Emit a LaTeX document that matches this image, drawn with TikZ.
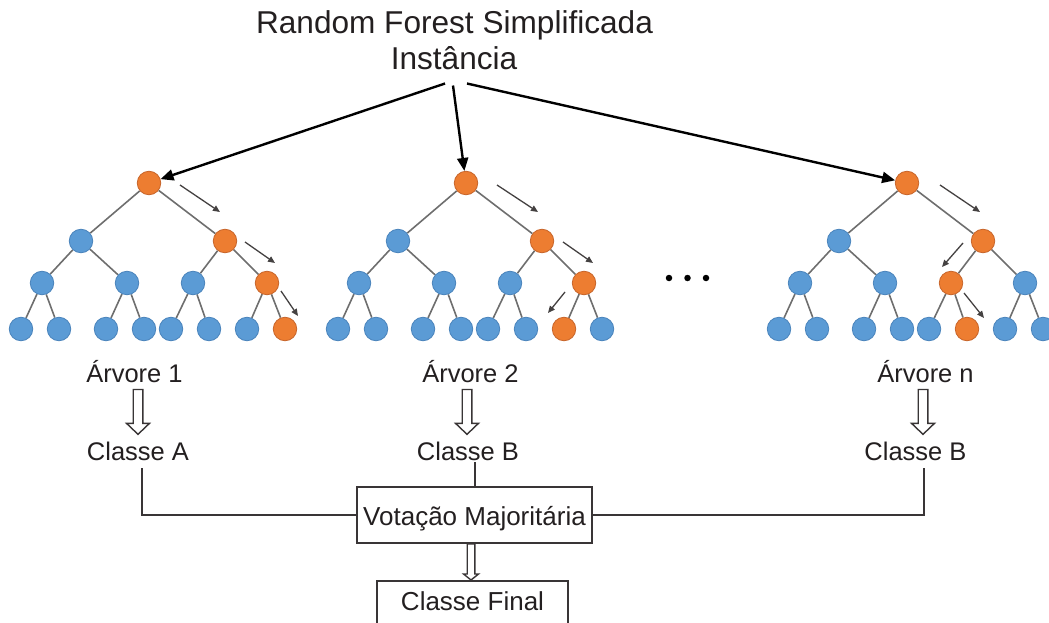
\documentclass[tikz,border=0pt]{standalone}
\usepackage{fontspec}
\setmainfont{Liberation Sans}
\usetikzlibrary{arrows.meta,backgrounds,calc}

\definecolor{nodeblue}{HTML}{5B9BD5}
\definecolor{nodeblueline}{HTML}{4A84BC}
\definecolor{nodeorange}{HTML}{ED7D31}
\definecolor{nodeorangeline}{HTML}{C8652A}
\definecolor{edgegray}{HTML}{6E6E6E}
\definecolor{ink}{HTML}{231F20}

\tikzset{
  tnode/.style={circle,minimum size=23.5pt,inner sep=0pt,line width=0.8pt},
  edge/.style={draw=edgegray,line width=1.6pt},
  bigtxt/.style={font=\fontsize{31.6}{36}\selectfont,text=ink,inner sep=0pt,anchor=base},
  lbl/.style={font=\fontsize{25.5}{30}\selectfont,text=ink,inner sep=0pt,anchor=base},
  feed/.style={draw=black,line width=2.4pt,-{Triangle[length=13pt,width=11pt]}},
  walk/.style={draw=ink!85,line width=1.3pt,-{Triangle[length=7pt,width=6pt]}},
  wire/.style={draw=ink!90,line width=2pt},
  boxed/.style={draw=ink!90,line width=2pt,inner ysep=0pt,anchor=base,
    font=\fontsize{26}{30}\selectfont,text=ink},
  hollow/.style={draw=ink!90,line width=1.4pt,fill=white,line join=miter},
  dotnode/.style={circle,fill=black,minimum size=6.5pt,inner sep=0pt},
}

% one binary tree of depth three; #1 prefix, #2 root x,
% #3 orange node of the third row, #4 orange leaf
\newcommand\rftree[4]{%
  \node[tnode,fill=nodeorange,draw=nodeorangeline] (#1r) at (#2,183) {};
  \node[tnode,fill=nodeblue,draw=nodeblueline] (#1a) at (#2-68,241) {};
  \node[tnode,fill=nodeorange,draw=nodeorangeline] (#1b) at (#2+76,241) {};
  \foreach \dx [count=\k] in {-107,-22,44,118}{%
    \ifnum\k=#3\relax\def\fc{nodeorange}\else\def\fc{nodeblue}\fi
    \node[tnode,fill=\fc,draw=\fc line] (#1c\k) at (#2+\dx,283) {};
  }
  \foreach \dx [count=\k] in {-128,-90,-43,-5,22,60,98,136}{%
    \ifnum\k=#4\relax\def\fc{nodeorange}\else\def\fc{nodeblue}\fi
    \node[tnode,fill=\fc,draw=\fc line] (#1d\k) at (#2+\dx,329) {};
  }
  \begin{scope}[on background layer]
    \draw[edge] (#1r)--(#1a) (#1r)--(#1b)
      (#1a)--(#1c1) (#1a)--(#1c2) (#1b)--(#1c3) (#1b)--(#1c4)
      (#1c1)--(#1d1) (#1c1)--(#1d2) (#1c2)--(#1d3) (#1c2)--(#1d4)
      (#1c3)--(#1d5) (#1c3)--(#1d6) (#1c4)--(#1d7) (#1c4)--(#1d8);
  \end{scope}
}

% open block arrow from the bottom of node #2 to the top of node #3 at x=#1
% #4 half shaft width, #5 half head width, #6 head length, #7 top gap, #8 tip gap
\newcommand\blockarrow[8]{%
  \draw[hollow] let \p1=(#2.south), \p2=(#3.north) in
    (#1pt-#4pt,\y1-#7pt) -- (#1pt-#4pt,\y2+#8pt+#6pt) -- (#1pt-#5pt,\y2+#8pt+#6pt)
    -- (#1pt,\y2+#8pt) -- (#1pt+#5pt,\y2+#8pt+#6pt) -- (#1pt+#4pt,\y2+#8pt+#6pt)
    -- (#1pt+#4pt,\y1-#7pt) -- cycle;
}

\begin{document}
\begin{tikzpicture}[x=1pt,y=-1pt]
\useasboundingbox (0,0) rectangle (1049,623);

% headings
\node[bigtxt] (title) at (454.5,34) {Random Forest Simplificada};
\node[bigtxt] (inst) at (454,70) {Instância};

% the three trees
\rftree{ta}{149}{4}{8}
\rftree{tb}{466}{4}{7}
\rftree{tc}{907}{3}{6}

% ellipsis between the second and the last tree
\node[dotnode] (dot1) at (669,278) {};
\node[dotnode] (dot2) at (687.5,278) {};
\node[dotnode] (dot3) at (706,278) {};

% the instance is fed to every tree
\draw[feed] ($(inst.south)+(-9,13)$) -- (tar);
\draw[feed] ($(inst.south)+(-1,15)$) -- (tbr);
\draw[feed] ($(inst.south)+(13,13)$) -- (tcr);

% decision paths
\draw[walk] ($(tar)+(31,2)$) -- ($(tar)+(71,29)$);
\draw[walk] ($(tar)+(96,59)$) -- ($(tar)+(126,80)$);
\draw[walk] ($(tac4)+(14,8)$) -- ($(tac4)+(31,33)$);

\draw[walk] ($(tbr)+(31,2)$) -- ($(tbr)+(72,29)$);
\draw[walk] ($(tbr)+(97,59)$) -- ($(tbr)+(127,80)$);
\draw[walk] ($(tbc4)+(-19,9)$) -- ($(tbc4)+(-36,30)$);

\draw[walk] ($(tcr)+(33,2)$) -- ($(tcr)+(73,29)$);
\draw[walk] ($(tcb)+(-20,2)$) -- ($(tcb)+(-41,26)$);
\draw[walk] ($(tcc3)+(13,10)$) -- ($(tcc3)+(33,35)$);

% tree names and their votes
\node[lbl] (arv1) at (134.5,382) {Árvore 1};
\node[lbl] (arv2) at (470.5,382) {Árvore 2};
\node[lbl] (arvn) at (925.5,382) {Árvore n};
\node[lbl] (clsa) at (138,460) {Classe A};
\node[lbl] (clsb) at (468,460) {Classe B};
\node[lbl] (clsn) at (915.5,460) {Classe B};

\blockarrow{138}{arv1}{clsa}{4.8}{11.5}{11}{7}{7}
\blockarrow{467}{arv2}{clsb}{4.8}{11.5}{11}{7}{7}
\blockarrow{923}{arvn}{clsn}{4.8}{11.5}{11}{7}{7}

% majority vote and final class
\node[boxed,minimum width=235pt,text height=38pt,text depth=18pt] (vote) at (474.5,525) {Votação Majoritária};
\node[boxed,minimum width=191pt,text height=29pt,text depth=30pt] (final) at (472.5,610) {Classe Final};

\draw[wire] ($(clsa.south)+(4,8)$) |- (vote.west);
\draw[wire] ($(clsn.south)+(8.5,8)$) |- (vote.east);
\draw[wire] (vote.north) -- ($(vote.north |- clsb.south)+(0,2)$);

\blockarrow{471}{vote}{final}{3.8}{7.5}{6}{0}{0}
\end{tikzpicture}
\end{document}
